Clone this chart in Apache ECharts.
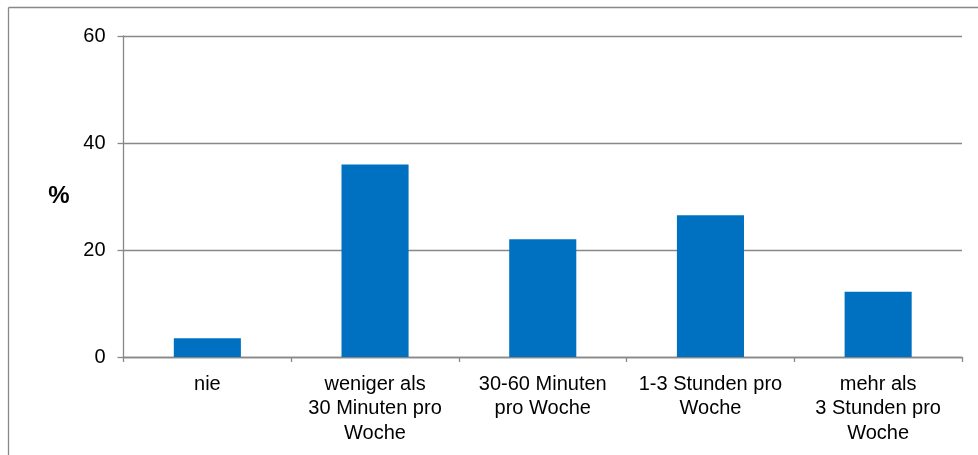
<!DOCTYPE html>
<html>
<head>
<meta charset="utf-8">
<script src="https://cdn.jsdelivr.net/npm/echarts@6/dist/echarts.min.js"></script>
<style>
  html, body { margin: 0; padding: 0; background: #fff; }
  #chart { width: 978px; height: 455px; }
</style>
</head>
<body>
<div id="chart"></div>
<script>
// Wöchentliche Dauer – Anteil in Prozent
const categories = [
  'nie',
  'weniger als\n30 Minuten pro\nWoche',
  '30-60 Minuten\npro Woche',
  '1-3 Stunden pro\nWoche',
  'mehr als\n3 Stunden pro\nWoche'
];
const percentValues = [3.5, 36, 22, 26.5, 12.2];
const yTicks = [0, 20, 40, 60];

const lineGray = '#888888';
const font = 'Liberation Sans, Arial, sans-serif';

const chart = echarts.init(document.getElementById('chart'), null, { renderer: 'canvas' });
chart.setOption({
  animation: false,
  backgroundColor: '#ffffff',
  grid: { left: 123.5, right: 16, top: 36, bottom: 98 },
  graphic: [
    { type: 'line', shape: { x1: 8.5, y1: 7.5, x2: 8.5, y2: 455 }, style: { stroke: lineGray, lineWidth: 1.3 } },
    { type: 'line', shape: { x1: 8.5, y1: 7.5, x2: 978, y2: 7.5 }, style: { stroke: lineGray, lineWidth: 1.3 } }
  ],
  xAxis: {
    type: 'category',
    data: categories,
    axisLine: { show: true, lineStyle: { color: lineGray, width: 1.3 } },
    axisTick: { show: true, alignWithLabel: false, length: 5, lineStyle: { color: lineGray, width: 1.3 } },
    axisLabel: {
      interval: 0,
      color: '#000',
      fontFamily: font,
      fontSize: 20,
      lineHeight: 24.5,
      margin: 15,
      align: 'center'
    }
  },
  yAxis: {
    type: 'value',
    min: yTicks[0],
    max: yTicks[yTicks.length - 1],
    interval: yTicks[1] - yTicks[0],
    name: '%',
    nameLocation: 'middle',
    nameRotate: 0,
    nameGap: 54,
    nameTextStyle: { color: '#000', fontFamily: font, fontSize: 24, fontWeight: 'bold' },
    axisLine: { show: true, lineStyle: { color: lineGray, width: 1.3 } },
    axisTick: { show: true, length: 6, lineStyle: { color: lineGray, width: 1.3 } },
    axisLabel: { color: '#000', fontFamily: font, fontSize: 20, margin: 18 },
    splitLine: { show: true, lineStyle: { color: lineGray, width: 1.3 } }
  },
  series: [{
    type: 'bar',
    data: percentValues,
    barWidth: '40%',
    itemStyle: { color: '#0070C0' }
  }]
});
</script>
</body>
</html>
